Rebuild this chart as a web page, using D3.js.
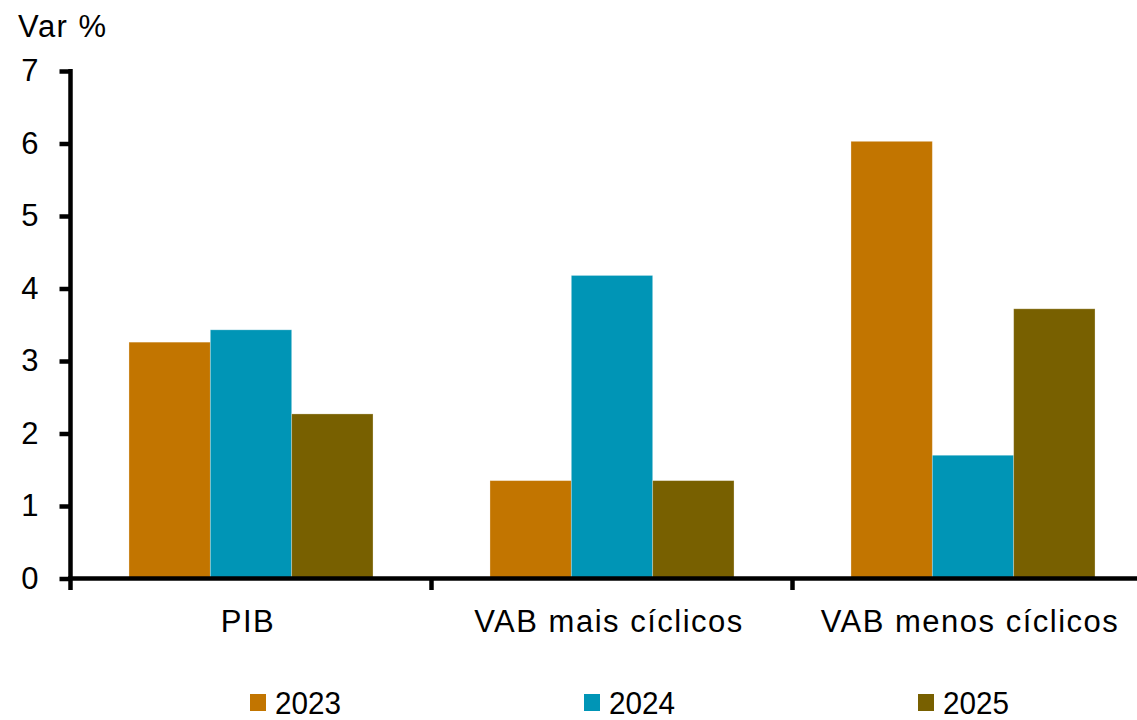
<!DOCTYPE html>
<html>
<head>
<meta charset="utf-8">
<script src="https://cdn.jsdelivr.net/npm/d3@7"></script>
<style>
  html, body { margin: 0; padding: 0; background: #ffffff; }
  svg { display: block; }
  text { font-family: "Liberation Sans", Arial, sans-serif; fill: #000; }
</style>
</head>
<body>
<svg id="chart" width="1137" height="720"></svg>
<script>
// Categories, series and ticks
const categories = ["PIB", "VAB mais cíclicos", "VAB menos cíclicos"];
const years = ["2023", "2024", "2025"];
const values2023 = [3.26, 1.35, 6.03];
const values2024 = [3.43, 4.18, 1.70];
const values2025 = [2.27, 1.35, 3.72];
const yTicks = [0, 1, 2, 3, 4, 5, 6, 7];
const yLabel = "Var %";
const colors = ["#C27500", "#0095B6", "#786000"];

const seriesValues = [values2023, values2024, values2025];

const svg = d3.select("#chart");

const x0 = d3.scaleBand()
  .domain(categories)
  .range([70.5, 1153.5])
  .paddingInner(0.324)
  .paddingOuter(0.162);

const x1 = d3.scaleBand()
  .domain(years)
  .range([0, x0.bandwidth()])
  .padding(0);

const y = d3.scaleLinear()
  .domain([0, 7])
  .range([578.5, 71]);

const color = d3.scaleOrdinal().domain(years).range(colors);

// Bars
const groups = svg.append("g")
  .selectAll("g")
  .data(categories)
  .join("g")
  .attr("transform", d => `translate(${x0(d)},0)`);

groups.selectAll("rect")
  .data((cat, i) => years.map((yr, j) => ({ year: yr, value: seriesValues[j][i] })))
  .join("rect")
  .attr("x", d => x1(d.year))
  .attr("width", x1.bandwidth())
  .attr("y", d => y(d.value))
  .attr("height", d => y(0) - y(d.value))
  .attr("fill", d => color(d.year))
  .attr("stroke", "rgba(255,255,255,0.35)")
  .attr("stroke-width", 0.8);

// Y axis
const yAxis = d3.axisLeft(y)
  .tickValues(yTicks)
  .tickFormat(d3.format("d"))
  .tickSize(11)
  .tickPadding(21);

const gy = svg.append("g")
  .attr("transform", "translate(70.5,0)")
  .call(yAxis);
gy.select(".domain").remove();
gy.selectAll(".tick line").attr("stroke", "#000").attr("stroke-width", 4.5);
gy.selectAll(".tick text")
  .attr("font-size", 31)
  .attr("font-family", "Liberation Sans, Arial, sans-serif")
  .attr("fill", "#000");
gy.append("line")
  .attr("x1", 0).attr("x2", 0)
  .attr("y1", y(7) - 2).attr("y2", 590)
  .attr("stroke", "#000").attr("stroke-width", 4.5);

// X axis baseline and category separators
const gx = svg.append("g");
gx.append("line")
  .attr("x1", 68).attr("x2", 1137)
  .attr("y1", y(0)).attr("y2", y(0))
  .attr("stroke", "#000").attr("stroke-width", 4.5);

const boundaries = categories.slice(1).map(c => x0(c) - x0.step() * x0.paddingInner() / 2);
gx.selectAll("line.sep")
  .data(boundaries)
  .join("line")
  .attr("class", "sep")
  .attr("x1", d => d).attr("x2", d => d)
  .attr("y1", y(0)).attr("y2", 590)
  .attr("stroke", "#000").attr("stroke-width", 4.5);

gx.selectAll("text.cat")
  .data(categories)
  .join("text")
  .attr("class", "cat")
  .attr("x", d => x0(d) + x0.bandwidth() / 2 - 3)
  .attr("y", 632)
  .attr("text-anchor", "middle")
  .attr("font-size", 31)
  .attr("letter-spacing", 1.5)
  .text(d => d);

// Y axis title
svg.append("text")
  .attr("x", 18)
  .attr("y", 37)
  .attr("font-size", 31)
  .attr("letter-spacing", 1.5)
  .text(yLabel);

// Legend
const legendX = [250, 584, 918];
const legend = svg.append("g")
  .selectAll("g")
  .data(years)
  .join("g")
  .attr("transform", (d, i) => `translate(${legendX[i]},0)`);

legend.append("rect")
  .attr("x", 0).attr("y", 694)
  .attr("width", 16).attr("height", 17)
  .attr("fill", d => color(d));

legend.append("text")
  .attr("x", 25)
  .attr("y", 714)
  .attr("font-size", 32)
  .attr("textLength", 66)
  .attr("lengthAdjust", "spacingAndGlyphs")
  .text(d => d);
</script>
</body>
</html>
